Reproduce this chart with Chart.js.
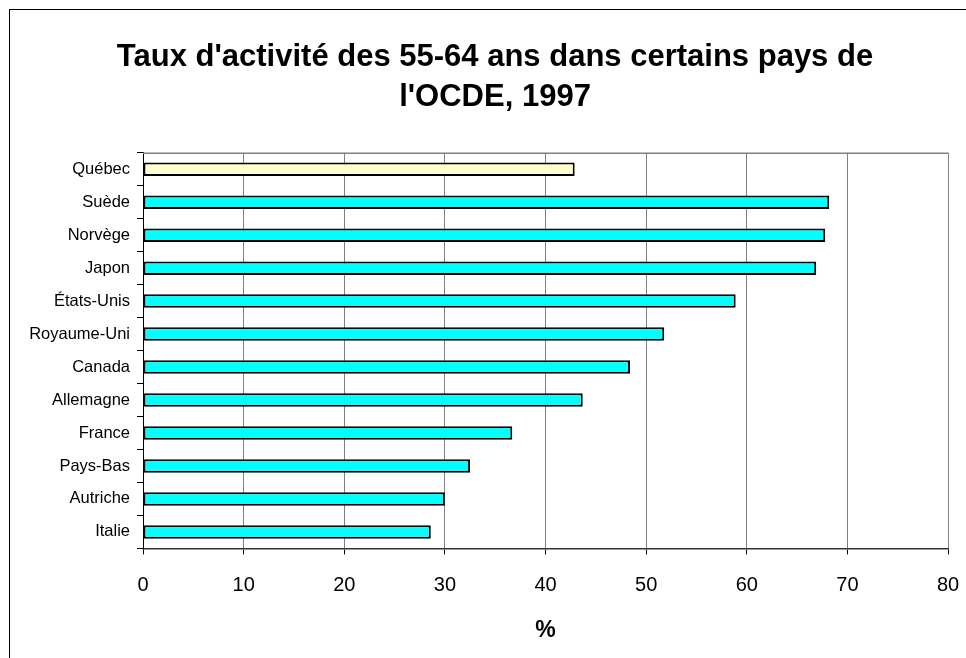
<!DOCTYPE html>
<html lang="fr">
<head>
    <meta charset="UTF-8">
    <title>Taux d'activité 55-64 ans</title>
    <style>
        html, body {
            margin: 0;
            padding: 0;
            background: #fff;
            overflow: hidden;
        }

        #frame {
            position: absolute;
            left: 9px;
            top: 9px;
            width: 2000px;
            height: 2000px;
            border-left: 1px solid #000;
            border-top: 1px solid #000;
        }

        #chartBlock {
            position: absolute;
            left: 0;
            top: 0;
            width: 966px;
            height: 658px;
        }
    </style>
</head>
<body>
    <div id="frame"></div>
    <div id="chartBlock">
        <canvas id="myChart"></canvas>
    </div>

<script src="https://cdn.jsdelivr.net/npm/chart.js@4/dist/chart.umd.min.js"></script>
<script>
    // donnees
    var pays = ['Québec', 'Suède', 'Norvège', 'Japon', 'États-Unis', 'Royaume-Uni',
                'Canada', 'Allemagne', 'France', 'Pays-Bas', 'Autriche', 'Italie'];
    var taux = [42.9, 68.2, 67.8, 66.9, 58.9, 51.8, 48.4, 43.7, 36.7, 32.5, 30.0, 28.6];
    var graduations = [0, 10, 20, 30, 40, 50, 60, 70, 80];
    var titre = ["Taux d'activité des 55-64 ans dans certains pays de", "l'OCDE, 1997"];
    var titreAxe = '%';

    Chart.defaults.font.family = "'Liberation Sans', Arial, sans-serif";
    Chart.defaults.color = '#000';

    var ctx = document.getElementById('myChart').getContext('2d');

    var myChart = new Chart(ctx, {
        type: 'bar',
        data: {
            labels: pays,
            datasets: [{
                label: 'Taux',
                data: taux,
                backgroundColor: function (c) {
                    return pays[c.dataIndex] === 'Québec' ? '#ffffcc' : '#00ffff';
                },
                borderColor: '#000',
                borderWidth: 2,
                borderSkipped: false,
                categoryPercentage: 1,
                barPercentage: 0.41
            }]
        },
        options: {
            indexAxis: 'y',
            responsive: true,
            maintainAspectRatio: false,
            animation: false,
            events: [],
            layout: {
                padding: { left: 24, right: 0, top: 0, bottom: 0 }
            },
            plugins: {
                legend: { display: false },
                tooltip: { enabled: false },
                title: {
                    display: true,
                    text: titre,
                    color: '#000',
                    font: { size: 31, weight: 'bold', lineHeight: 1.27 },
                    padding: { top: 38, bottom: 36 }
                }
            },
            scales: {
                x: {
                    type: 'linear',
                    min: 0,
                    max: 80,
                    afterBuildTicks: function (scale) {
                        scale.ticks = graduations.map(function (v) { return { value: v }; });
                    },
                    afterFit: function (scale) {
                        scale.paddingRight = 18;
                    },
                    grid: {
                        color: '#808080',
                        lineWidth: 1,
                        drawTicks: true,
                        tickLength: 6,
                        tickColor: '#000'
                    },
                    border: { display: true, color: '#333', width: 1.5 },
                    ticks: {
                        font: { size: 20 },
                        padding: 19,
                        maxRotation: 0
                    },
                    title: {
                        display: true,
                        text: titreAxe,
                        font: { size: 23, weight: 'bold' },
                        padding: { top: 0, bottom: 14 }
                    }
                },
                y: {
                    afterFit: function (scale) {
                        scale.width = 119;
                    },
                    grid: {
                        drawOnChartArea: false,
                        drawTicks: true,
                        tickLength: 6,
                        color: '#000',
                        offset: true
                    },
                    border: { display: true, color: '#000', width: 1 },
                    ticks: {
                        font: { size: 16.5 },
                        padding: 7,
                        autoSkip: false
                    }
                }
            }
        },
        plugins: [{
            id: 'cadreHaut',
            afterDatasetsDraw: function (chart) {
                var a = chart.chartArea;
                var c = chart.ctx;
                c.save();
                c.strokeStyle = '#808080';
                c.lineWidth = 1.5;
                c.beginPath();
                c.moveTo(a.left, a.top + 0.5);
                c.lineTo(a.right, a.top + 0.5);
                c.stroke();
                c.restore();
            }
        }]
    });
</script>
</body>
</html>
